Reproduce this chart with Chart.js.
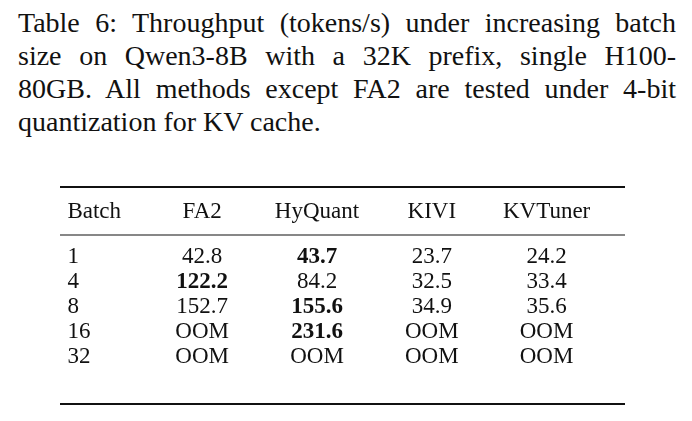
<!DOCTYPE html>
<html>
<head>
<meta charset="utf-8">
<script src="https://cdn.jsdelivr.net/npm/chart.js@4"></script>
<style>
  body { margin: 0; width: 692px; height: 421px; background: #fff; position: relative; overflow: hidden; }
  #caption { position: absolute; left: 18px; top: 6px; width: 658px; font-family: "Liberation Serif", "Times New Roman", serif;
             font-size: 28px; line-height: 33px; color: #111; }
  #caption span { display: block; white-space: nowrap; text-align: justify; text-align-last: justify; }
  #caption span.last { text-align-last: left; }
  #wrap { position: absolute; left: 0; top: 170px; width: 692px; height: 251px; }
</style>
</head>
<body>
<div id="caption"><span>Table 6: Throughput (tokens/s) under increasing batch</span><span>size on Qwen3-8B with a 32K prefix, single H100-</span><span>80GB. All methods except FA2 are tested under 4-bit</span><span class="last">quantization for KV cache.</span></div>
<div id="wrap"><canvas id="tbl"></canvas></div>
<script>
const columns = ["Batch", "FA2", "HyQuant", "KIVI", "KVTuner"];
const batches = ["1", "4", "8", "16", "32"];
const fa2 = ["42.8", "122.2", "152.7", "OOM", "OOM"];
const hyquant = ["43.7", "84.2", "155.6", "231.6", "OOM"];
const kivi = ["23.7", "32.5", "34.9", "OOM", "OOM"];
const kvtuner = ["24.2", "33.4", "35.6", "OOM", "OOM"];
// which method is best per row (bold)
const boldCol = ["HyQuant", "FA2", "HyQuant", "HyQuant", null];

const series = [batches, fa2, hyquant, kivi, kvtuner];
const cells = [];
series.forEach((vals, c) => {
  vals.forEach((v, r) => {
    cells.push({ x: columns[c], y: batches[r], v: v, bold: boldCol[r] === columns[c] });
  });
});

const font = '"Liberation Serif", "Times New Roman", serif';

const tablePlugin = {
  id: 'tableText',
  afterDatasetsDraw(chart) {
    const ctx = chart.ctx;
    const area = chart.chartArea;
    const xs = chart.scales.x;
    const meta = chart.getDatasetMeta(0);
    ctx.save();
    ctx.fillStyle = '#111';
    ctx.textBaseline = 'middle';
    // header
    ctx.font = '23px ' + font;
    columns.forEach((name, i) => {
      const px = xs.getPixelForValue(i);
      if (i === 0) { ctx.textAlign = 'left'; ctx.fillText(name, px - 20, area.top - 33); }
      else { ctx.textAlign = 'center'; ctx.fillText(name, px, area.top - 33); }
    });
    // cells
    meta.data.forEach((pt, i) => {
      const cell = cells[i];
      ctx.font = (cell.bold ? 'bold ' : '') + '23px ' + font;
      if (cell.x === 'Batch') { ctx.textAlign = 'left'; ctx.fillText(cell.v, pt.x - 20, pt.y); }
      else { ctx.textAlign = 'center'; ctx.fillText(cell.v, pt.x, pt.y); }
    });
    // rules
    ctx.strokeStyle = '#111';
    const l = 60, r = 625;
    ctx.lineWidth = 2;
    ctx.beginPath(); ctx.moveTo(l, area.top - 58); ctx.lineTo(r, area.top - 58); ctx.stroke();
    ctx.beginPath(); ctx.moveTo(l, area.bottom + 35); ctx.lineTo(r, area.bottom + 35); ctx.stroke();
    ctx.lineWidth = 1.2;
    ctx.beginPath(); ctx.moveTo(l, area.top - 10); ctx.lineTo(r, area.top - 10); ctx.stroke();
    ctx.restore();
  }
};

new Chart(document.getElementById('tbl'), {
  type: 'scatter',
  data: { datasets: [{ data: cells, pointRadius: 0, pointHoverRadius: 0 }] },
  options: {
    responsive: true,
    maintainAspectRatio: false,
    animation: false,
    layout: { padding: { left: 30, right: 88, top: 75, bottom: 52 } },
    plugins: { legend: { display: false }, tooltip: { enabled: false } },
    scales: {
      x: { type: 'category', labels: columns, offset: true, display: false },
      y: { type: 'category', labels: batches, offset: true, display: false }
    }
  },
  plugins: [tablePlugin]
});
</script>
</body>
</html>
